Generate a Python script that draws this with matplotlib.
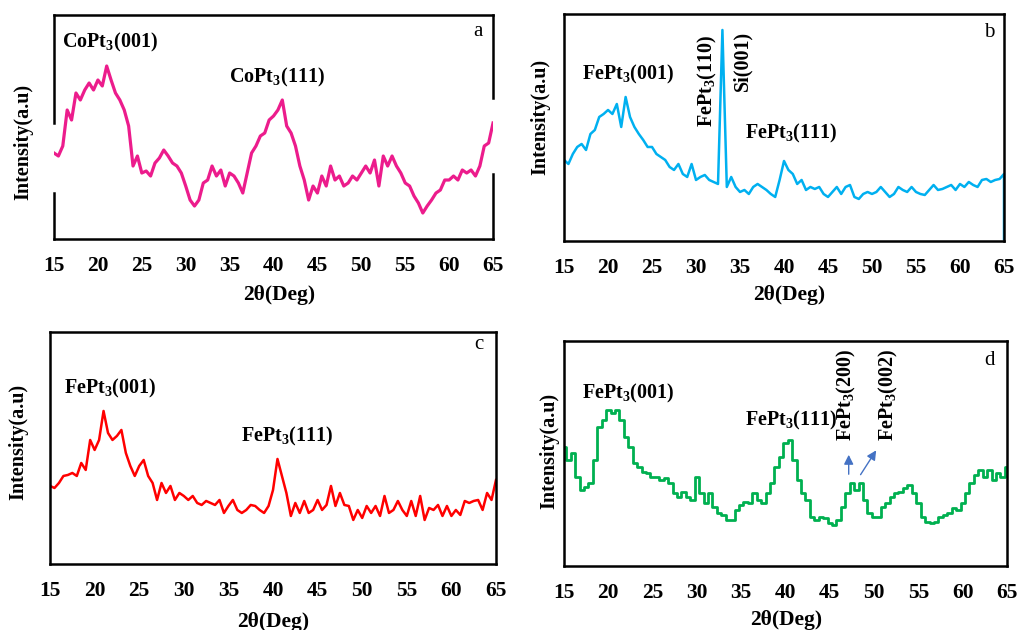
import numpy as np
import matplotlib
matplotlib.use("Agg")
from matplotlib import pyplot as plt

plt.rcParams['font.family'] = ['Liberation Serif', 'DejaVu Serif']
plt.rcParams['font.weight'] = 'bold'
plt.rcParams['mathtext.fontset'] = 'custom'
plt.rcParams['mathtext.rm'] = 'Liberation Serif:bold'
plt.rcParams['mathtext.bf'] = 'Liberation Serif:bold'
plt.rcParams['mathtext.default'] = 'rm'

# 2theta grid (deg)
two_theta = np.arange(15, 65.5, 0.5)

# intensities (arbitrary units)
a_int = [86, 83, 93, 129, 119, 146, 139, 149, 156, 149,
         159, 153, 173, 159, 146, 139, 129, 113, 73, 83,
         66, 68, 63, 76, 81, 89, 83, 76, 73, 66,
         53, 39, 33, 39, 56, 59, 73, 63, 69, 53,
         66, 63, 56, 46, 66, 86, 93, 103, 106, 119,
         123, 129, 139, 113, 106, 93, 73, 59, 39, 53,
         46, 63, 53, 73, 59, 63, 53, 56, 63, 59,
         66, 73, 66, 79, 53, 83, 73, 83, 73, 66,
         56, 53, 43, 36, 26, 33, 39, 46, 49, 59,
         59, 63, 59, 69, 66, 69, 63, 73, 93, 96,
         116]

b_int = [81, 77, 87, 94, 97, 91, 107, 111, 124, 127,
         131, 127, 137, 114, 144, 124, 114, 107, 101, 94,
         94, 87, 84, 81, 74, 71, 77, 67, 64, 77,
         61, 64, 66, 61, 59, 57, 211, 54, 64, 54,
         49, 51, 47, 54, 57, 54, 51, 47, 44, 61,
         80, 71, 67, 57, 61, 51, 54, 52, 54, 47,
         44, 49, 54, 47, 54, 56, 44, 42, 47, 49,
         47, 49, 54, 49, 44, 47, 54, 51, 49, 54,
         49, 47, 46, 51, 56, 51, 52, 54, 56, 51,
         57, 54, 59, 56, 54, 61, 62, 59, 61, 62,
         67]
b_end = 2  # trace drops to the baseline at 65 deg

c_int = [78, 76, 81, 88, 89, 91, 88, 101, 94, 124,
         114, 124, 153, 131, 124, 128, 134, 111, 98, 88,
         98, 104, 88, 81, 64, 81, 71, 78, 64, 71,
         68, 64, 68, 61, 59, 63, 61, 59, 64, 51,
         58, 64, 54, 51, 54, 59, 58, 54, 51, 58,
         74, 105, 88, 71, 48, 61, 51, 63, 51, 54,
         64, 54, 59, 78, 58, 71, 59, 58, 44, 54,
         46, 58, 51, 58, 48, 68, 51, 54, 63, 54,
         48, 63, 48, 68, 44, 56, 54, 59, 48, 58,
         48, 54, 49, 63, 61, 63, 64, 54, 71, 64,
         84]

d_int = [119, 106, 113, 89, 76, 79, 83, 106, 139, 146,
         156, 153, 156, 146, 129, 119, 103, 99, 94, 93,
         89, 89, 86, 88, 83, 73, 69, 74, 69, 66,
         89, 73, 63, 73, 59, 53, 51, 46, 46, 56,
         61, 64, 63, 73, 66, 63, 73, 83, 99, 109,
         123, 126, 106, 86, 73, 66, 49, 46, 49, 48,
         43, 41, 46, 59, 73, 83, 76, 83, 66, 53,
         49, 49, 59, 63, 69, 73, 74, 78, 81, 73,
         63, 49, 44, 43, 44, 49, 51, 53, 58, 56,
         63, 73, 83, 91, 96, 89, 96, 86, 93, 89,
         99]

xticks = [15, 20, 25, 30, 35, 40, 45, 50, 55, 60, 65]

fig = plt.figure(figsize=(10.17, 6.3), dpi=100)
ax_a = fig.add_axes([0.0531, 0.6206, 0.4317, 0.3556])
ax_b = fig.add_axes([0.5546, 0.6175, 0.4326, 0.3603])
ax_c = fig.add_axes([0.0492, 0.1048, 0.4385, 0.3683])
ax_d = fig.add_axes([0.5546, 0.1016, 0.4356, 0.3571])

ax_a.plot(two_theta, a_int, color='#EC1C8C', lw=2.3)
ax_b.plot(np.append(two_theta, 65), np.append(b_int, b_end), color='#00B0F0', lw=1.8)
ax_c.plot(two_theta, c_int, color='#FF0000', lw=1.8)
ax_d.plot(two_theta, d_int, color='#00B050', lw=2.0, drawstyle='steps-mid')

ylims = {ax_a: 224, ax_b: 227, ax_c: 232, ax_d: 225}
ylab_pos = {ax_a: (-0.0706, 0.433), ax_b: (-0.0545, 0.546),
            ax_c: (-0.0717, 0.526), ax_d: (-0.0339, 0.511)}
xlab_pos = {ax_a: (0.513, -0.25), ax_b: (0.511, -0.238),
            ax_c: (0.5, -0.25), ax_d: (0.501, -0.24)}

for ax in (ax_a, ax_b, ax_c, ax_d):
    ax.set_xlim(15, 65)
    ax.set_ylim(0, ylims[ax])
    ax.set_xticks(xticks)
    ax.set_yticks([])
    ax.tick_params(axis='x', length=0, pad=12, labelsize=15.5)
    for s in ax.spines.values():
        s.set_linewidth(1.8)
    ax.set_xlabel('2θ(Deg)', fontsize=15.5, fontweight='bold')
    ax.set_ylabel('Intensity(a.u)', fontsize=14.5, fontweight='bold')
    ax.xaxis.set_label_coords(*xlab_pos[ax])
    ax.xaxis.label.set_verticalalignment('center')
    ax.yaxis.set_label_coords(*ylab_pos[ax])
    ax.yaxis.label.set_verticalalignment('center')

# panel a has broken side frames
ax_a.spines['left'].set_visible(False)
ax_a.spines['right'].set_visible(False)
for x, lo, hi in [(15, 0, 0.205), (15, 0.518, 1), (65, 0, 0.29), (65, 0.63, 1)]:
    ax_a.axvline(x, lo, hi, color='black', lw=1.8, clip_on=False)

fs = 14.5
ax_a.text(21.4, 197, 'CoPt$_3$(001)', fontsize=fs, ha='center', va='center')
ax_a.text(40.4, 162, 'CoPt$_3$(111)', fontsize=fs, ha='center', va='center')
ax_a.text(63.3, 207, 'a', fontsize=15, fontweight='normal', ha='center', va='center')

ax_b.text(22.3, 166, 'FePt$_3$(001)', fontsize=fs, ha='center', va='center')
ax_b.text(31.25, 160, 'FePt$_3$(110)', fontsize=fs, ha='center', va='center', rotation=90)
ax_b.text(35.3, 180, 'Si(001)', fontsize=fs, ha='center', va='center', rotation=90)
ax_b.text(40.8, 107, 'FePt$_3$(111)', fontsize=fs, ha='center', va='center')
ax_b.text(63.3, 208, 'b', fontsize=15, fontweight='normal', ha='center', va='center')

ax_c.text(21.8, 175, 'FePt$_3$(001)', fontsize=fs, ha='center', va='center')
ax_c.text(41.55, 127, 'FePt$_3$(111)', fontsize=fs, ha='center', va='center')
ax_c.text(63.05, 219, 'c', fontsize=15, fontweight='normal', ha='center', va='center')

ax_d.text(22.2, 173, 'FePt$_3$(001)', fontsize=fs, ha='center', va='center')
ax_d.text(40.65, 146, 'FePt$_3$(111)', fontsize=fs, ha='center', va='center')
ax_d.text(46.9, 171, 'FePt$_3$(200)', fontsize=fs, ha='center', va='center', rotation=90)
ax_d.text(51.6, 171, 'FePt$_3$(002)', fontsize=fs, ha='center', va='center', rotation=90)
ax_d.text(63, 206, 'd', fontsize=15, fontweight='normal', ha='center', va='center')
ax_d.annotate('', xy=(47.13, 114), xytext=(47.13, 89),
              arrowprops=dict(arrowstyle='-|>', color='#4472C4', lw=1, mutation_scale=14))
ax_d.annotate('', xy=(50.4, 118), xytext=(48.3, 89),
              arrowprops=dict(arrowstyle='-|>', color='#4472C4', lw=1, mutation_scale=14))

plt.savefig('out.png', dpi=100)
